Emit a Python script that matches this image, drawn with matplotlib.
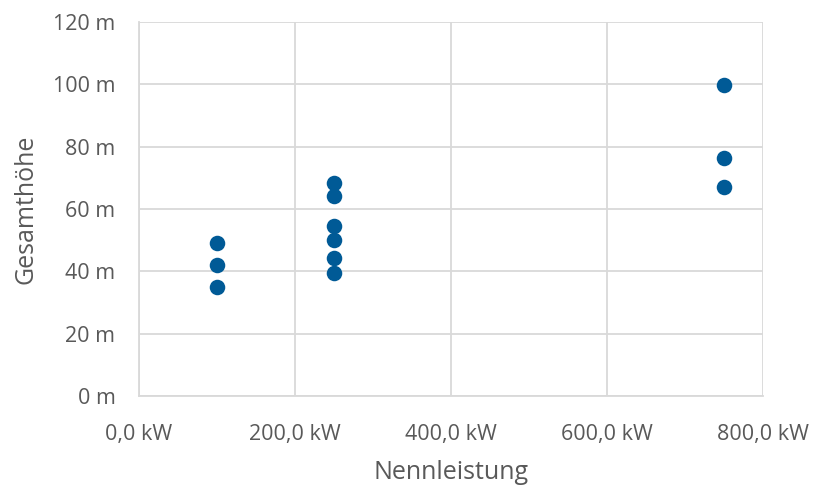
import matplotlib.pyplot as plt
from matplotlib.ticker import FuncFormatter

plt.rcParams['font.family'] = ['Open Sans', 'DejaVu Sans']

# Rated power (kW) and total height (m) of the turbines
leistung_kw = [100, 100, 100, 250, 250, 250, 250, 250, 250, 750, 750, 750]
hoehe_m = [49.2, 42.0, 35.1, 68.2, 64.2, 54.5, 50.0, 44.4, 39.6, 99.7, 76.4, 67.0]

x_ticks = [0, 200, 400, 600, 800]
y_ticks = [0, 20, 40, 60, 80, 100, 120]

text_color = '#595959'
grid_color = '#D9D9D9'
point_color = '#005A96'

fig = plt.figure(figsize=(8.2, 4.88), dpi=100)
ax = fig.add_axes([0.1695, 0.1885, 0.761, 0.7665])

ax.scatter(leistung_kw, hoehe_m, s=125, color=point_color, zorder=3, linewidths=0)

ax.set_xlim(0, 800)
ax.set_ylim(0, 120)
ax.set_xticks(x_ticks)
ax.set_yticks(y_ticks)
ax.xaxis.set_major_formatter(FuncFormatter(lambda v, p: f'{v:.1f}'.replace('.', ',') + ' kW'))
ax.yaxis.set_major_formatter(FuncFormatter(lambda v, p: f'{v:.0f} m'))

ax.grid(True, color=grid_color, linewidth=1.3, zorder=0)
ax.set_axisbelow(True)
for side in ['top', 'right']:
    ax.spines[side].set_visible(False)
for side in ['left', 'bottom']:
    ax.spines[side].set_color(grid_color)
    ax.spines[side].set_linewidth(1.3)

ax.tick_params(axis='both', length=0, labelsize=15.5, colors=text_color)
ax.tick_params(axis='x', pad=20.5)
ax.tick_params(axis='y', pad=17)

ax.set_xlabel('Nennleistung', fontsize=18, color=text_color, labelpad=10.5)
ax.set_ylabel('Gesamthöhe', fontsize=18, color=text_color, labelpad=10)

fig.savefig('out.png', dpi=100)
